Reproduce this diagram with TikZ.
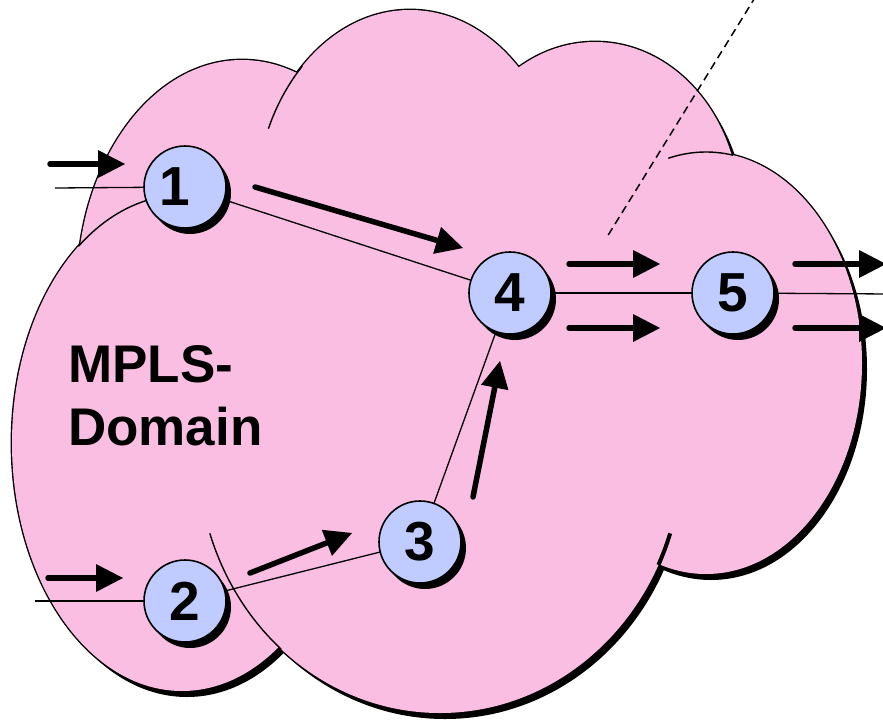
\documentclass[tikz,border=0pt]{standalone}
\usepackage{fontspec}
\setmainfont{Liberation Sans}
\usetikzlibrary{arrows.meta,shadows}
\definecolor{cloudpink}{RGB}{250,190,226}
\definecolor{routerblue}{RGB}{192,204,255}
\pgfdeclarelayer{background}
\pgfdeclarelayer{links}
\pgfsetlayers{background,links,main}

\begin{document}
\begin{tikzpicture}[x=1pt,y=-1pt,
  router/.style={circle, draw=black, line width=1.6pt, fill=routerblue,
    minimum size=82pt, inner sep=0pt,
    font=\fontsize{55}{55}\selectfont\bfseries,
    general shadow={fill=black, shadow xshift=5pt, shadow yshift=-6pt}},
  link/.style={draw=black, line width=1.3pt},
  flow/.style={draw=black, line width=5.5pt, line cap=round,
    -{Triangle[length=27pt,width=28pt,line width=0pt]}},
  cloudline/.style={draw=black, line width=1.4pt},
  boundary/.style={draw=black, line width=1.5pt, dash pattern=on 8pt off 5pt},
]
\useasboundingbox (0,0) rectangle (883,720);

% ---- cloud: union of six elliptic lobes (centre x/y, radii) ----
\def\lobes{242/290/165/230, 410/210/155/200, 595/212/145/170,
           706/363/156/211, 440/453/242/260, 182/443/170/248}
\begin{pgfonlayer}{background}
  % drop shadow
  \foreach \cx/\cy/\rx/\ry in \lobes
    \fill[black] (\cx+5,\cy+6) ellipse [x radius=\rx pt, y radius=\ry pt];
  % outer outline (inner half is covered by the fill below)
  \foreach \cx/\cy/\rx/\ry in \lobes
    \draw[black, line width=2.8pt] (\cx,\cy) ellipse [x radius=\rx pt, y radius=\ry pt];
  \foreach \cx/\cy/\rx/\ry in \lobes
    \fill[cloudpink] (\cx,\cy) ellipse [x radius=\rx pt, y radius=\ry pt];
  % short inner arcs where lobes overlap
  \draw[cloudline] ([shift={(156:155pt and 200pt)}]410,210)
    arc[start angle=156, end angle=134, x radius=155pt, y radius=200pt];
  \draw[cloudline] ([shift={(104:156pt and 211pt)}]706,363)
    arc[start angle=104, end angle=80, x radius=156pt, y radius=211pt];
  \draw[draw=black, line width=4pt] ([shift={(-18:242pt and 260pt)}]440,453)
    arc[start angle=-18, end angle=-25.5, x radius=242pt, y radius=260pt];
  \draw[cloudline] ([shift={(198:242pt and 260pt)}]440,453)
    arc[start angle=198, end angle=229, x radius=242pt, y radius=260pt];
  \draw[cloudline] ([shift={(127.5:170pt and 248pt)}]182,443)
    arc[start angle=127.5, end angle=98, x radius=170pt, y radius=248pt];
\end{pgfonlayer}

% ---- label (anchored on the baseline of its last line) ----
\node[anchor=base west, align=left, inner sep=0pt,
      font=\fontsize{53}{63}\selectfont\bfseries] (domain) at (68,445) {MPLS-\\Domain};

% ---- routers ----
\node[router] (n1) at (185,187) {\kern-10pt 1\kern10pt};
\node[router] (n2) at (185,601) {2};
\node[router] (n3) at (420,542) {3};
\node[router] (n4) at (510,293) {4};
\node[router] (n5) at (733,293) {5};

\coordinate (in1) at (55,188);
\coordinate (in2) at (35,601);
\coordinate (out5) at (890,294);

% ---- links ----
\begin{pgfonlayer}{links}
  \draw[link] (in1) -- (n1.center);
  \draw[link] (in2) -- (n2.center);
  \draw[link] (n1.center) -- (n4.center);
  \draw[link] (n2.center) -- (n3.center);
  \draw[link] (n3.center) -- (n4.center);
  \draw[link] (n4.center) -- (n5.center);
  \draw[link] (n5.center) -- (out5);
\end{pgfonlayer}

% ---- traffic flow arrows ----
\coordinate (f1a) at (50,164);  \coordinate (f1b) at (125,164);
\coordinate (f2a) at (48,578);  \coordinate (f2b) at (123,578);
\coordinate (f3a) at (255,187); \coordinate (f3b) at (463,248);
\coordinate (f4a) at (250,573); \coordinate (f4b) at (352,533);
\coordinate (f5a) at (473,497); \coordinate (f5b) at (500,361);
\coordinate (f6a) at (569,264); \coordinate (f6b) at (660,264);
\coordinate (f7a) at (569,328); \coordinate (f7b) at (660,328);
\coordinate (f8a) at (795,264); \coordinate (f8b) at (886,264);
\coordinate (f9a) at (795,328); \coordinate (f9b) at (886,328);
\foreach \f in {1,...,9}
  \draw[flow] (f\f a) -- (f\f b);

% ---- domain boundary ----
\coordinate (cutA) at (756,-4);
\coordinate (cutB) at (607,237);
\draw[boundary] (cutA) -- (cutB);
\end{tikzpicture}
\end{document}
